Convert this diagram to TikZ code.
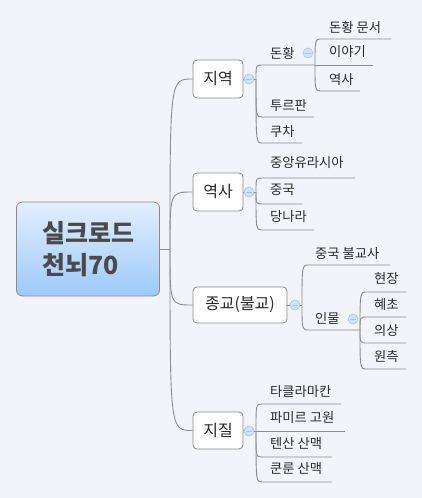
\documentclass[tikz,border=0pt]{standalone}
\usepackage{fontspec}
\setmainfont{Noto Sans CJK KR}
\usetikzlibrary{calc}
\definecolor{bg}{HTML}{F2F4F9}
\definecolor{lnc}{HTML}{8C8C8C}
\definecolor{boxc}{HTML}{8A8A8A}
\definecolor{txt}{HTML}{2A2A2A}
\definecolor{ctxt}{HTML}{4A4A4A}
\definecolor{togf}{HTML}{D2E2FA}
\definecolor{togd}{HTML}{A6C4F0}
\definecolor{ctop}{HTML}{E2EFFD}
\definecolor{cbot}{HTML}{9DCAFB}
\begin{document}
\begin{tikzpicture}[x=1pt,y=-1pt,
  conn/.style={draw=lnc, line width=0.9pt},
  branch/.style={draw=boxc, fill=white, rounded corners=4pt, line width=0.8pt,
    font=\fontsize{16}{18}\selectfont, text=txt, inner sep=0pt},
  leaf/.style={anchor=west, inner sep=0pt, font=\fontsize{13.3}{15}\selectfont, text=txt},
  tog/.style={circle, draw=togd, fill=togf, minimum size=10pt, inner sep=0pt, line width=0.6pt,
    path picture={\draw[togd, line width=0.9pt]
      ([xshift=-2.6pt]path picture bounding box.center) -- ([xshift=2.6pt]path picture bounding box.center);}}]
\useasboundingbox (0,0) rectangle (422,498);
\fill[bg] (0,0) rectangle (422,498);

% ---------- nodes ----------
\node[draw=boxc, line width=0.8pt, rounded corners=6pt, top color=ctop, bottom color=cbot,
  minimum width=143pt, minimum height=94pt, inner sep=0pt] (c) at (88,249) {};
\node[text=ctxt, font=\fontsize{25}{32}\selectfont\bfseries, align=left, inner sep=0pt] (ct) at (88,249) {실크로드\\천뇌70};

\node[branch, minimum width=50pt, minimum height=38pt] (b1) at (218,79) {지역};
\node[branch, minimum width=50pt, minimum height=38pt] (b2) at (218,192) {역사};
\node[branch, minimum width=94pt, minimum height=36pt] (b3) at (240,305) {종교(불교)};
\node[branch, minimum width=50pt, minimum height=37pt] (b4) at (218,430.5) {지질};

% hubs
\coordinate (ch) at (170,249);
\coordinate (h1) at (256,79);
\coordinate (h2) at (256,192);
\coordinate (h3) at (302,305);
\coordinate (h4) at (256,431);
\coordinate (h11) at (315,65);
\coordinate (h32) at (360,330);

% central connectors
\draw[conn] (c.east) -- (ch);
\foreach \b in {b1,b2,b3,b4}{
  \draw[conn] (ch) .. controls (ch |- \b.west) .. (\b.west);
}

% ----- 지역 -----
\node[tog] (t1) at (249,79) {};
\draw[conn] (b1.east) -- (t1.west);
\draw[conn] (t1.east) -- (h1);
\node[leaf] (l11) at (270,53) {돈황};
\node[leaf] (l12) at (270,106) {투르판};
\node[leaf] (l13) at (270,132) {쿠차};
\coordinate (a11) at (262,65);
\coordinate (a12) at (262,117); \coordinate (e12) at (314,117);
\coordinate (a13) at (262,143); \coordinate (e13) at (302,143);
\draw[conn] (h1) .. controls (h1 |- a11) .. (a11) -- (h11);
\draw[conn] (h1) .. controls (h1 |- a12) .. (a12) -- (e12);
\draw[conn] (h1) .. controls (h1 |- a13) .. (a13) -- (e13);
\node[tog] (t11) at (308,53) {};
\node[leaf] (l111) at (329,27) {돈황 문서};
\node[leaf] (l112) at (329,52) {이야기};
\node[leaf] (l113) at (329,80) {역사};
\coordinate (a111) at (322,39); \coordinate (e111) at (391,39);
\coordinate (e112) at (373,65);
\coordinate (a113) at (322,91); \coordinate (e113) at (360,91);
\draw[conn] (h11) .. controls (h11 |- a111) .. (a111) -- (e111);
\draw[conn] (h11) -- (e112);
\draw[conn] (h11) .. controls (h11 |- a113) .. (a113) -- (e113);

% ----- 역사 -----
\node[tog] (t2) at (249,192) {};
\draw[conn] (b2.east) -- (t2.west);
\draw[conn] (t2.east) -- (h2);
\node[leaf] (l21) at (270,163) {중앙유라시아};
\node[leaf] (l22) at (270,190) {중국};
\node[leaf] (l23) at (270,217) {당나라};
\coordinate (a21) at (262,178); \coordinate (e21) at (355,178);
\coordinate (a22) at (262,204); \coordinate (e22) at (302,204);
\coordinate (a23) at (262,230); \coordinate (e23) at (314,230);
\draw[conn] (h2) .. controls (h2 |- a21) .. (a21) -- (e21);
\draw[conn] (h2) .. controls (h2 |- a22) .. (a22) -- (e22);
\draw[conn] (h2) .. controls (h2 |- a23) .. (a23) -- (e23);

% ----- 종교(불교) -----
\node[tog] (t3) at (295,305) {};
\draw[conn] (b3.east) -- (t3.west);
\draw[conn] (t3.east) -- (h3);
\node[leaf] (l31) at (315,254) {중국 불교사};
\node[leaf] (l32) at (315,318) {인물};
\coordinate (a31) at (309,265); \coordinate (e31) at (390,265);
\coordinate (a32) at (309,330);
\draw[conn] (h3) .. controls (h3 |- a31) .. (a31) -- (e31);
\draw[conn] (h3) .. controls (h3 |- a32) .. (a32) -- (h32);
\node[tog] (t32) at (353,319) {};
\node[leaf] (l321) at (374,279) {현장};
\node[leaf] (l322) at (374,305) {혜초};
\node[leaf] (l323) at (374,331) {의상};
\node[leaf] (l324) at (374,357) {원측};
\coordinate (a321) at (367,292); \coordinate (e321) at (406,292);
\coordinate (a322) at (367,317); \coordinate (e322) at (406,317);
\coordinate (a323) at (367,343); \coordinate (e323) at (406,343);
\coordinate (a324) at (367,369); \coordinate (e324) at (406,369);
\foreach \i in {1,2,3,4}{
  \draw[conn] (h32) .. controls (h32 |- a32\i) .. (a32\i) -- (e32\i);
}

% ----- 지질 -----
\node[tog] (t4) at (249,431) {};
\draw[conn] (b4.east) -- (t4.west);
\draw[conn] (t4.east) -- (h4);
\node[leaf] (l41) at (270,392) {타클라마칸};
\node[leaf] (l42) at (270,418) {파미르 고원};
\node[leaf] (l43) at (270,444) {텐산 산맥};
\node[leaf] (l44) at (270,469) {쿤룬 산맥};
\coordinate (a41) at (262,404); \coordinate (e41) at (341,404);
\coordinate (e42) at (345,431);
\coordinate (a43) at (262,457); \coordinate (e43) at (332,457);
\coordinate (a44) at (262,482); \coordinate (e44) at (332,482);
\draw[conn] (h4) .. controls (h4 |- a41) .. (a41) -- (e41);
\draw[conn] (h4) -- (e42);
\draw[conn] (h4) .. controls (h4 |- a43) .. (a43) -- (e43);
\draw[conn] (h4) .. controls (h4 |- a44) .. (a44) -- (e44);
\end{tikzpicture}
\end{document}
